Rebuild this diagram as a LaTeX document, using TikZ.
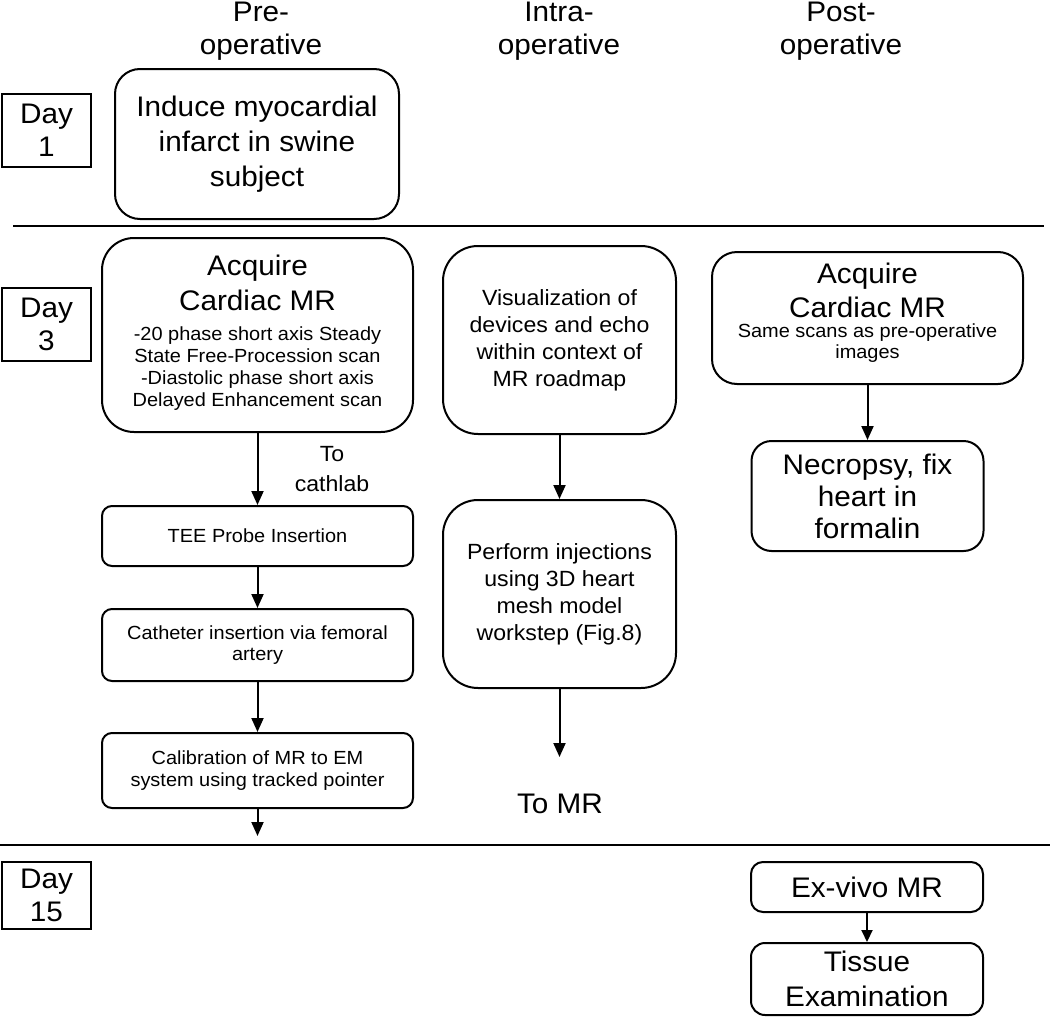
\documentclass[tikz,border=0pt]{standalone}
\usepackage{fontspec}
\setmainfont{Liberation Sans}[FakeStretch=1.05]
\usetikzlibrary{arrows.meta}
\newcommand{\bigf}{\fontsize{28.3}{35}\selectfont}
\newcommand{\midf}{\fontsize{22}{27}\selectfont}
\newcommand{\smallf}{\fontsize{19}{21.7}\selectfont}
\begin{document}
\begin{tikzpicture}[x=1pt,y=-1pt,
  box/.style={draw, line width=2pt, rounded corners=#1, inner sep=0pt, align=center},
  box/.default=10pt,
  daybox/.style={draw, line width=1.8pt, minimum width=89pt, inner sep=0pt, align=center, font=\fontsize{28.3}{33}\selectfont},
  arr/.style={line width=2pt, -{Triangle[width=12pt,length=14pt]}},
  txt/.style={inner sep=0pt, align=center},
  rule/.style={line width=2.2pt}]
\useasboundingbox (0,0) rectangle (1050,1017);

% column headings
\node[txt, font=\fontsize{28.3}{33}\selectfont] (hpre) at (261,31) {Pre-\\operative};
\node[txt, font=\fontsize{28.3}{33}\selectfont] (hintra) at (559,31) {Intra-\\operative};
\node[txt, font=\fontsize{28.3}{33}\selectfont] (hpost) at (841,31) {Post-\\operative};

% day boxes
\node[daybox, minimum height=73pt] (d1) at (46.5,130.5) {Day\\1};
\node[daybox, minimum height=73pt] (d3) at (46.5,324.5) {Day\\3};
\node[daybox, minimum height=67pt] (d15) at (46.5,895.5) {Day\\15};

% separators
\coordinate (r1a) at (13,226); \coordinate (r1b) at (1044,226);
\coordinate (r2a) at (0,845); \coordinate (r2b) at (1050,845);
\draw[rule] (r1a) -- (r1b);
\draw[rule] (r2a) -- (r2b);

% Day 1
\node[box=25pt, minimum width=284pt, minimum height=150pt, font=\bigf] (induce) at (257,144) {Induce myocardial\\infarct in swine\\subject};

% Day 3 pre-operative
\node[box=32pt, minimum width=311pt, minimum height=194pt] (acq1) at (257.5,335) {};
\node[txt, font=\bigf, anchor=north] (acq1t) at (257.5,255) {Acquire\\Cardiac MR};
\node[txt, font=\smallf, anchor=north] (acq1s) at (257.5,327) {-20 phase short axis Steady\\State Free-Procession scan\\-Diastolic phase short axis\\Delayed Enhancement scan};
\node[box=10pt, minimum width=311pt, minimum height=60pt, font=\smallf] (tee) at (257.5,536) {TEE Probe Insertion};
\node[box=10pt, minimum width=311pt, minimum height=72pt, font=\smallf] (cath) at (257.5,645) {Catheter insertion via femoral\\artery};
\node[box=10pt, minimum width=311pt, minimum height=75pt, font=\smallf] (calib) at (257.5,770.5) {Calibration of MR to EM\\system using tracked pointer};
\node[txt, font=\fontsize{22}{30}\selectfont, anchor=north] (tocath) at (332,446) {To\\cathlab};
\coordinate (calend) at (257.5,836);
\draw[arr] (acq1.south) -- (tee.north);
\draw[arr] (tee.south) -- (cath.north);
\draw[arr] (cath.south) -- (calib.north);
\draw[arr] (calib.south) -- (calend);

% Day 3 intra-operative
\node[box=35pt, minimum width=233pt, minimum height=188pt, font=\midf] (vis) at (559.5,340) {Visualization of\\devices and echo\\within context of\\MR roadmap};
\node[box=35pt, minimum width=233pt, minimum height=188pt, font=\midf] (perf) at (559.5,594) {Perform injections\\using 3D heart\\mesh model\\workstep (Fig.8)};
\coordinate (perfend) at (559.5,757);
\draw[arr] (vis.south) -- (perf.north);
\draw[arr] (perf.south) -- (perfend);
\node[txt, font=\bigf, anchor=base] (tomr) at (560,813) {To MR};

% Day 3 post-operative
\node[box=25pt, minimum width=311pt, minimum height=132pt] (acq2) at (867.5,318) {};
\node[txt, font=\fontsize{28.3}{34}\selectfont, anchor=north] (acq2t) at (867.5,263) {Acquire\\Cardiac MR};
\node[txt, font=\fontsize{19}{21}\selectfont, anchor=north] (acq2s) at (867.5,324) {Same scans as pre-operative\\images};
\node[box=20pt, minimum width=232pt, minimum height=110pt, font=\fontsize{28.3}{32}\selectfont] (necro) at (867.5,496) {Necropsy, fix\\heart in\\formalin};
\draw[arr] (acq2.south) -- (necro.north);

% Day 15 post-operative
\node[box=12pt, minimum width=232pt, minimum height=50pt, font=\bigf] (exvivo) at (867,887) {Ex-vivo MR};
\node[box=14pt, minimum width=232pt, minimum height=72pt, font=\bigf] (tissue) at (867,979) {Tissue\\Examination};
\draw[line width=2pt, -{Triangle[width=11pt,length=12pt]}] (exvivo.south) -- (tissue.north);
\end{tikzpicture}
\end{document}
